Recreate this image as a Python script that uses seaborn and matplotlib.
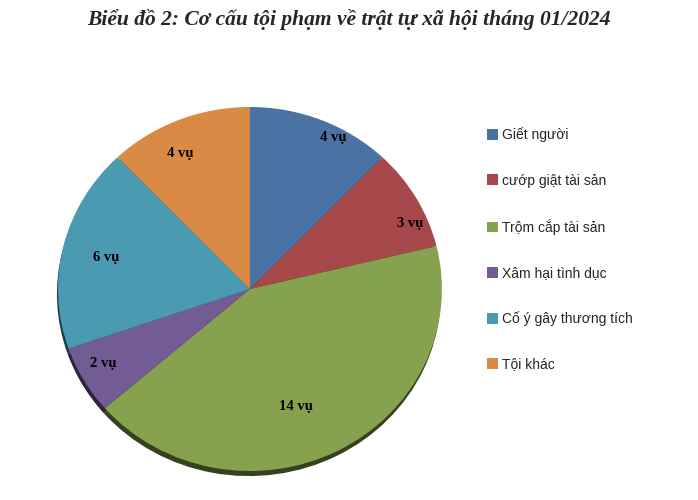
import matplotlib
matplotlib.use("Agg")
import matplotlib.pyplot as plt
import seaborn as sns
import numpy as np

sns.set_theme(style="white")
plt.rcParams['font.family'] = ['Liberation Sans', 'DejaVu Sans']

# data
categories = ['Giết người', 'cướp giật tài sản', 'Trộm cắp tài sản',
              'Xâm hại tình dục', 'Cố ý gây thương tích', 'Tội khác']
cases = [4, 3, 14, 2, 6, 4]
colors = ['#4A72A3', '#A6474A', '#86A24E', '#735B93', '#4A9BB2', '#D98A45']
# value label placement: fraction of radius and angle nudge (deg) from slice middle
label_r = [0.94, 0.91, 0.69, 0.87, 0.77, 0.83]
label_nudge = [-5.6, -6.6, -7.0, -1.8, 0.6, 4.2]

fig = plt.figure(figsize=(6.98, 5.0), dpi=100)
ax = fig.add_axes([0.0831, 0.058, 0.550, 0.728])

wedges, _ = ax.pie(cases, colors=colors, startangle=90, counterclock=False,
                   wedgeprops=dict(linewidth=0),
                   shadow=dict(ox=-0.004, oy=-0.02, shade=0.6, alpha=1))
ax.set_xlim(-1, 1)
ax.set_ylim(-1, 1)
ax.set_aspect('auto')
ax.axis('off')

for w, v, r, d in zip(wedges, cases, label_r, label_nudge):
    ang = np.deg2rad((w.theta1 + w.theta2) / 2 + d)
    ax.text(r * np.cos(ang), r * np.sin(ang), f'{v} vụ',
            ha='center', va='center', fontsize=10.5, fontweight='bold',
            family=['Liberation Serif', 'DejaVu Serif'], color='black')

fig.text(0.5, 0.962, 'Biểu đồ 2: Cơ cấu tội phạm về trật tự xã hội tháng 01/2024',
         ha='center', va='center', fontsize=15.5, fontweight='bold', style='italic',
         family=['Liberation Serif', 'DejaVu Serif'])

fig.legend(wedges, categories, loc='upper left', bbox_to_anchor=(0.698, 0.745),
           frameon=False, fontsize=10, labelspacing=2.25, handlelength=0.8,
           handleheight=0.8, handletextpad=0.3, borderpad=0, borderaxespad=0)

fig.savefig('out.png', dpi=100, facecolor='white')
